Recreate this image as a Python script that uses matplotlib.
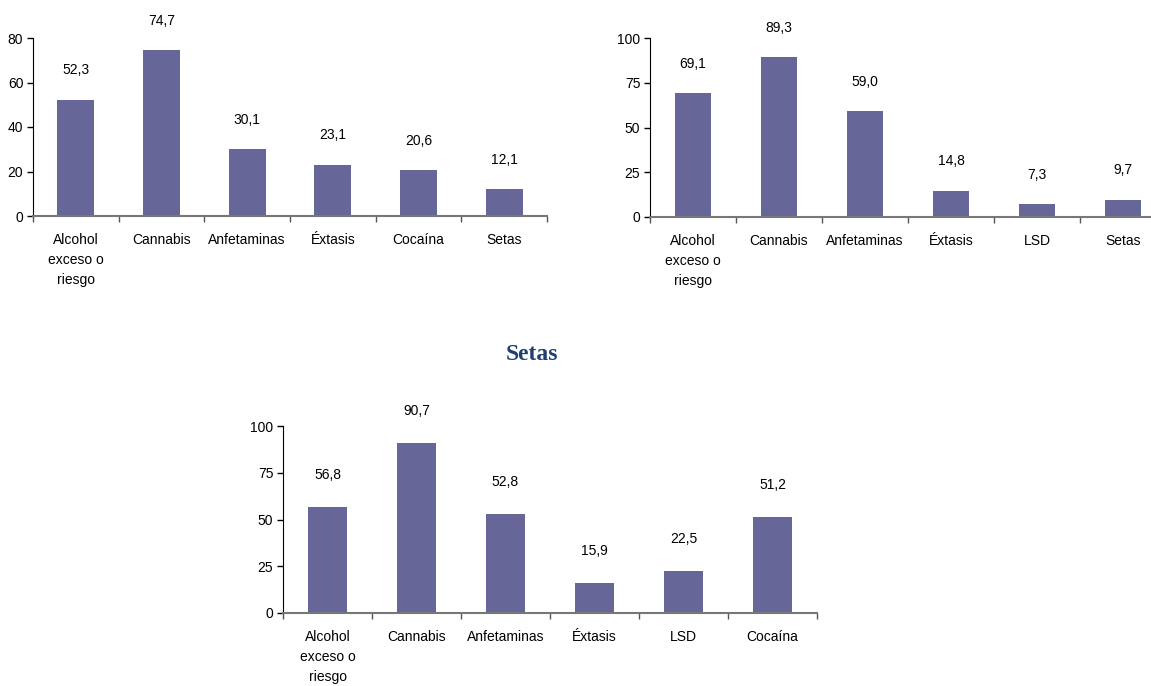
import numpy as np
from matplotlib import pyplot as plt

plt.rcParams['font.family'] = ['Liberation Sans', 'DejaVu Sans']

# datos de los tres paneles
cats1 = ['Alcohol\nexceso o\nriesgo', 'Cannabis', 'Anfetaminas', 'Éxtasis', 'Cocaína', 'Setas']
vals1 = [52.3, 74.7, 30.1, 23.1, 20.6, 12.1]

cats2 = ['Alcohol\nexceso o\nriesgo', 'Cannabis', 'Anfetaminas', 'Éxtasis', 'LSD', 'Setas']
vals2 = [69.1, 89.3, 59.0, 14.8, 7.3, 9.7]

cats3 = ['Alcohol\nexceso o\nriesgo', 'Cannabis', 'Anfetaminas', 'Éxtasis', 'LSD', 'Cocaína']
vals3 = [56.8, 90.7, 52.8, 15.9, 22.5, 51.2]

BAR = '#666699'
W, H = 1151, 686


def panel(fig, box, cats, vals, yticks, lab_off):
    l, r, t, b = box
    ax = fig.add_axes([l / W, 1 - b / H, (r - l) / W, (b - t) / H])
    x = np.arange(len(cats))
    ax.bar(x, vals, width=0.43, color=BAR, zorder=2)
    for xi, v in zip(x, vals):
        ax.annotate(f'{v:.1f}'.replace('.', ','), (xi, v), xytext=(0, lab_off),
                    textcoords='offset points', ha='center', va='center',
                    fontsize=10, annotation_clip=False)
    ax.set_xlim(-0.5, len(cats) - 0.5)
    ax.set_ylim(yticks[0], yticks[-1])
    ax.set_yticks(yticks)
    ax.set_xticks(np.arange(len(cats) + 1) - 0.5)
    ax.set_xticklabels([])
    ax.set_xticks(x, minor=True)
    ax.set_xticklabels(cats, minor=True, fontsize=10, linespacing=1.55, va='top')
    ax.tick_params(axis='x', which='minor', length=0, pad=12)
    ax.tick_params(axis='x', which='major', length=4, direction='out', color='#555555', width=1)
    ax.tick_params(axis='y', length=4, direction='out', width=1, labelsize=10, pad=3)
    for s in ['top', 'right']:
        ax.spines[s].set_visible(False)
    ax.spines['left'].set_color('black')
    ax.spines['bottom'].set_color('#777777')
    ax.spines['bottom'].set_linewidth(1.5)
    return ax


fig = plt.figure(figsize=(11.51, 6.86), dpi=100)

panel(fig, (33, 547, 38, 216), cats1, vals1, [0, 20, 40, 60, 80], 21)
panel(fig, (650, 1166, 38, 217), cats2, vals2, [0, 25, 50, 75, 100], 21)
panel(fig, (283, 817, 426, 613), cats3, vals3, [0, 25, 50, 75, 100], 23)

fig.text(532 / W, 1 - 355 / H, 'Setas', ha='center', va='center',
         fontsize=17, fontweight='bold', color='#1F3F6F',
         family=['Liberation Serif', 'DejaVu Serif'])

fig.savefig('out.png', dpi=100)
